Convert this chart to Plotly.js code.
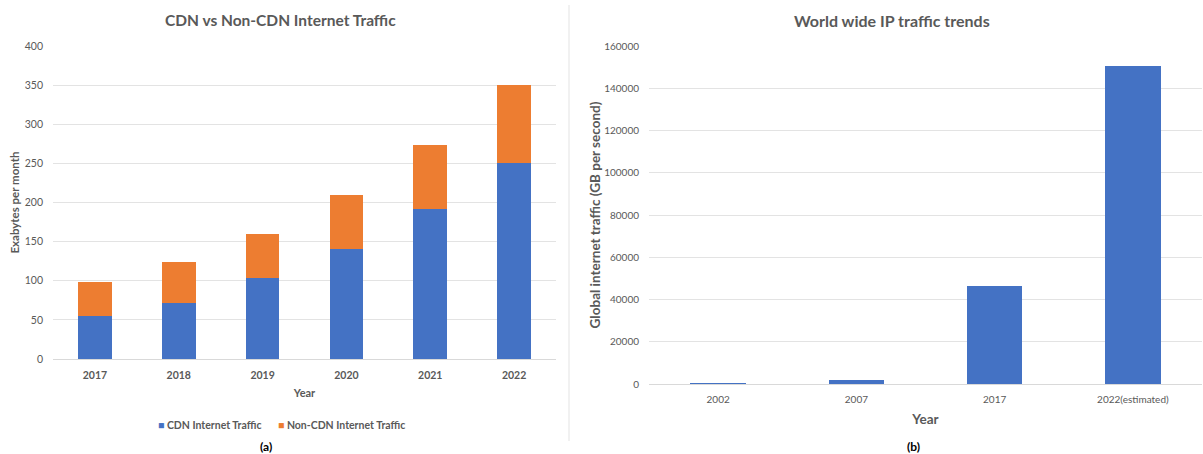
<!DOCTYPE html>
<html>
<head>
<meta charset="utf-8">
<script src="https://cdn.plot.ly/plotly-3.0.1.min.js"></script>
<style>
html,body{margin:0;padding:0;background:#fff;}
#chart{width:1203px;height:454px;}
</style>
</head>
<body>
<div id="chart"></div>
<script>
// Panel (a): CDN vs Non-CDN traffic (Exabytes per month)
const yearsA = ["2017", "2018", "2019", "2020", "2021", "2022"];
const cdnTraffic = [55, 72, 104, 140, 192, 251];
const nonCdnTraffic = [43, 52, 56, 70, 82, 99];
const seriesNamesA = ["CDN Internet Traffic", "Non-CDN Internet Traffic"];

// Panel (b): World wide IP traffic (GB per second)
const yearsB = ["2002", "2007", "2017", "2022(estimated)"];
const globalTraffic = [400, 2000, 46600, 150700];

const W = 1203, H = 454;
const px = v => v / W;
const py = v => (H - v) / H;

const FONT = "Lato, 'Open Sans', sans-serif";
const GRAY = "#595959";
const GRID = "#e3e3e3";
const BLUE = "#4472C4", ORANGE = "#ED7D31";

const traces = [
  {type: "bar", name: seriesNamesA[0], x: yearsA, y: cdnTraffic,
   marker: {color: BLUE}, xaxis: "x", yaxis: "y"},
  {type: "bar", name: seriesNamesA[1], x: yearsA, y: nonCdnTraffic,
   marker: {color: ORANGE}, xaxis: "x", yaxis: "y"},
  {type: "bar", name: "Global internet traffic", x: yearsB, y: globalTraffic,
   marker: {color: BLUE}, xaxis: "x2", yaxis: "y2"}
];

const legendFont = {family: FONT, size: 10.5, color: GRAY, weight: "bold"};

const layout = {
  width: W, height: H,
  margin: {l: 0, r: 0, t: 0, b: 0},
  paper_bgcolor: "#fff", plot_bgcolor: "#fff",
  font: {family: FONT, color: GRAY, size: 10},
  barmode: "stack",
  bargap: 0.6,
  showlegend: false,
  xaxis: {
    domain: [px(53), px(556)], anchor: "y",
    type: "category", showgrid: false, zeroline: false, showline: false,
    ticks: "", ticklabelstandoff: 8,
    tickfont: {family: FONT, size: 10.5, color: GRAY, weight: "bold"},
    title: {text: "Year", font: {family: FONT, size: 11, color: GRAY, weight: "bold"}, standoff: 9}
  },
  yaxis: {
    domain: [py(359), py(46)], anchor: "x",
    range: [0, 400], dtick: 50, tick0: 0,
    showgrid: true, gridcolor: GRID, gridwidth: 1,
    zeroline: true, zerolinecolor: "#d9d9d9", showline: false,
    ticks: "", ticklabelstandoff: 9,
    tickfont: {family: FONT, size: 10.5, color: GRAY},
    title: {text: "Exabytes per month", font: {family: FONT, size: 11.5, color: GRAY, weight: "bold"}, standoff: 2}
  },
  xaxis2: {
    domain: [px(649), px(1202)], anchor: "y2",
    type: "category", showgrid: false, zeroline: false, showline: false,
    ticks: "", ticklabelstandoff: 8,
    tickfont: {family: FONT, size: 10, color: GRAY},
    title: {text: "Year", font: {family: FONT, size: 13.5, color: GRAY, weight: "bold"}, standoff: 10}
  },
  yaxis2: {
    domain: [py(384), py(46)], anchor: "x2",
    range: [0, 160000], dtick: 20000, tick0: 0,
    showgrid: true, gridcolor: GRID, gridwidth: 1,
    zeroline: true, zerolinecolor: "#d9d9d9", showline: false,
    ticks: "", ticklabelstandoff: 9, tickformat: "d",
    tickfont: {family: FONT, size: 10, color: GRAY},
    title: {text: "Global internet traffic (GB per second)", font: {family: FONT, size: 13.5, color: GRAY, weight: "bold"}, standoff: 0}
  },
  annotations: [
    {text: "CDN vs Non-CDN Internet Traffic", xref: "paper", yref: "paper",
     x: px(280), y: py(20), xanchor: "center", yanchor: "middle", showarrow: false,
     font: {family: FONT, size: 15.5, color: GRAY, weight: "bold"}},
    {text: "World wide IP traffic trends", xref: "paper", yref: "paper",
     x: px(892), y: py(20), xanchor: "center", yanchor: "middle", showarrow: false,
     font: {family: FONT, size: 16, color: GRAY, weight: "bold"}},
    {text: '<span style="color:' + BLUE + '">■</span> ' + seriesNamesA[0], xref: "paper", yref: "paper",
     x: px(156), y: py(425), xanchor: "left", yanchor: "middle", showarrow: false,
     font: legendFont},
    {text: '<span style="color:' + ORANGE + '">■</span> ' + seriesNamesA[1], xref: "paper", yref: "paper",
     x: px(276), y: py(425), xanchor: "left", yanchor: "middle", showarrow: false,
     font: legendFont},
    {text: "(a)", xref: "paper", yref: "paper",
     x: px(266), y: py(446), xanchor: "center", yanchor: "middle", showarrow: false,
     font: {family: FONT, size: 12, color: "#000", weight: "bold"}},
    {text: "(b)", xref: "paper", yref: "paper",
     x: px(913), y: py(446), xanchor: "center", yanchor: "middle", showarrow: false,
     font: {family: FONT, size: 12, color: "#000", weight: "bold"}}
  ],
  shapes: [
    {type: "line", xref: "paper", yref: "paper", x0: px(569), x1: px(569), y0: py(5), y1: py(441),
     line: {color: "#e3e3e3", width: 1}}
  ]
};

Plotly.newPlot("chart", traces, layout, {displayModeBar: false, staticPlot: true});
</script>
</body>
</html>
